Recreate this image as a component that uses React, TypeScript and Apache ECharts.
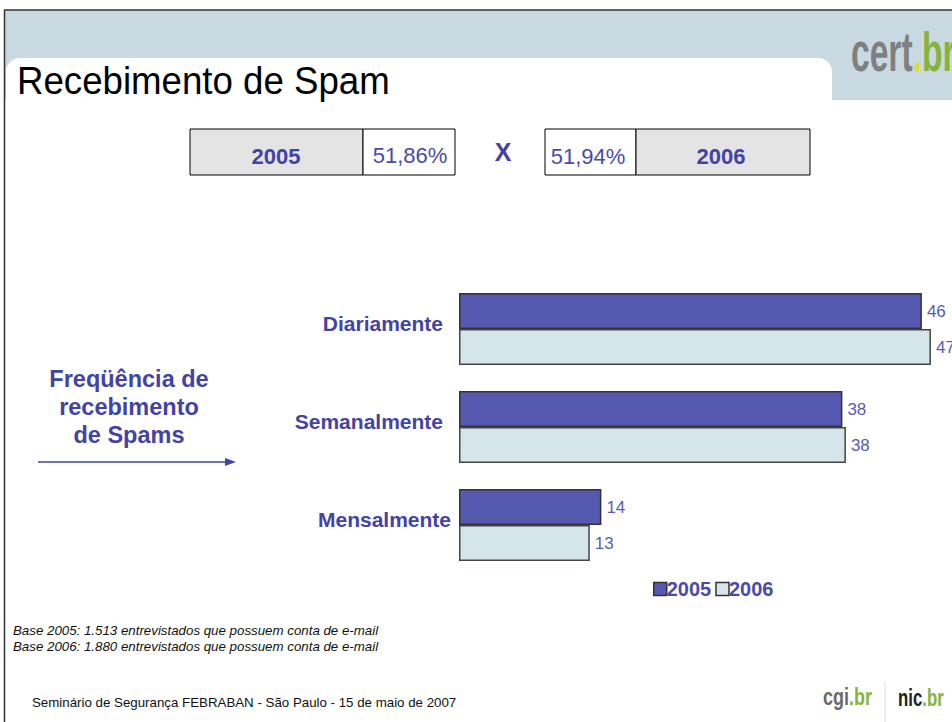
import React, { useEffect, useRef } from "react";
import * as echarts from "echarts";

const categories = ["Diariamente", "Semanalmente", "Mensalmente"];
const seriesNames = ["2005", "2006"];
const values2005 = [46, 38.1, 14.15];
const values2006 = [46.9, 38.45, 13];
const headerYears = ["2005", "2006"];
const headerRates = ["51,86%", "51,94%"];
const leftLines = ["Freqüência de", "recebimento", "de Spams"];
const footnotes = [
  "Base 2005: 1.513 entrevistados que possuem conta de e-mail",
  "Base 2006: 1.880 entrevistados que possuem conta de e-mail",
];
const footerText = "Seminário de Segurança FEBRABAN - São Paulo - 15 de maio de 2007";

const BLUE = "#4343a3";
const BAR1 = "#5659b0";
const BAR2 = "#d5e6ea";
const GREEN = "#86b33a";
const FONT = "'Liberation Sans', Arial, sans-serif";

export default function App() {
  const ref = useRef<HTMLDivElement>(null);
  useEffect(() => {
    if (!ref.current) return;
    const chart = echarts.init(ref.current, null, { renderer: "svg" });
    const catLabel = {
      fontSize: 21,
      fontWeight: "bold" as const,
      color: BLUE,
      fontFamily: FONT,
    };
    const barLabel = {
      show: true,
      position: "right",
      distance: 5,
      formatter: (p: any) => String(Math.round(p.value)),
      fontSize: 17,
      color: "#5a5ab8",
      fontFamily: FONT,
    };
    const option: any = {
      animation: false,
      backgroundColor: "#ffffff",
      grid: { left: 459, top: 280, width: 483, height: 294, containLabel: false },
      xAxis: {
        type: "value",
        min: 0,
        max: 48,
        show: false,
      },
      yAxis: {
        type: "category",
        data: categories,
        inverse: true,
        axisLine: { show: false },
        axisTick: { show: false },
        axisLabel: {
          margin: 8,
          padding: [0, 0, 11, 0],
          formatter: (v: string) => (v === "Mensalmente" ? `{m|${v}}` : `{n|${v}}`),
          rich: {
            n: { ...catLabel, padding: [0, 8, 0, 0] },
            m: { ...catLabel },
          },
        },
      },
      legend: {
        data: seriesNames,
        left: 648,
        top: 574,
        icon: "rect",
        itemWidth: 13,
        itemHeight: 13,
        itemGap: 4,
        itemStyle: { borderColor: "#333", borderWidth: 1.5 },
        textStyle: {
          fontSize: 20,
          fontWeight: "bold",
          color: "#4a4aaa",
          fontFamily: FONT,
          padding: [0, 0, 0, -5],
        },
      },
      series: [
        {
          name: seriesNames[0],
          type: "bar",
          data: values2005,
          barWidth: 36,
          barGap: "0%",
          itemStyle: { color: BAR1, borderColor: "#333", borderWidth: 1.5 },
          label: barLabel,
        },
        {
          name: seriesNames[1],
          type: "bar",
          data: values2006,
          barWidth: 36,
          barGap: "0%",
          itemStyle: { color: BAR2, borderColor: "#444", borderWidth: 1.5 },
          label: barLabel,
        },
      ],
      graphic: [
        // header band
        { type: "rect", z: -10, shape: { x: 5, y: 10, width: 947, height: 90 }, style: { fill: "#c9d9e1" } },
        { type: "rect", z: -9, shape: { x: 6, y: 58, width: 826, height: 80, r: [14, 14, 0, 0] }, style: { fill: "#ffffff" } },
        { type: "rect", z: -9, shape: { x: 6, y: 100, width: 946, height: 40 }, style: { fill: "#ffffff" } },
        { type: "line", shape: { x1: 4, y1: 10, x2: 952, y2: 10 }, style: { stroke: "#333", lineWidth: 1.5 } },
        { type: "line", shape: { x1: 4.5, y1: 10, x2: 4.5, y2: 722 }, style: { stroke: "#333", lineWidth: 1.5 } },
        // title
        {
          type: "text", x: 17, y: 81, scaleX: 0.94,
          style: { text: "Recebimento de Spam", fontSize: 39, fontFamily: FONT, fill: "#000", verticalAlign: "middle" },
        },
        // cert.br logo
        {
          type: "text", x: 851, y: 52, scaleX: 0.6,
          style: {
            text: "{g|cert}{y|.}{b|br}", verticalAlign: "middle",
            rich: {
              g: { fontSize: 56, fontWeight: "bold", fontFamily: FONT, fill: "#7f7f7f" },
              y: { fontSize: 56, fontWeight: "bold", fontFamily: FONT, fill: "#dede1e" },
              b: { fontSize: 56, fontWeight: "bold", fontFamily: FONT, fill: GREEN },
            },
          },
        },
        // header boxes
        { type: "rect", shape: { x: 190, y: 129, width: 173, height: 46 }, style: { fill: "#e4e4e4", stroke: "#000", lineWidth: 1 } },
        { type: "rect", shape: { x: 363, y: 129, width: 92, height: 46 }, style: { fill: "#fff", stroke: "#000", lineWidth: 1 } },
        { type: "rect", shape: { x: 545, y: 129, width: 91, height: 46 }, style: { fill: "#fff", stroke: "#000", lineWidth: 1 } },
        { type: "rect", shape: { x: 636, y: 129, width: 174, height: 46 }, style: { fill: "#e4e4e4", stroke: "#000", lineWidth: 1 } },
        { type: "text", x: 276, y: 156, style: { text: headerYears[0], fontSize: 22, fontWeight: "bold", fontFamily: FONT, fill: BLUE, align: "center", verticalAlign: "middle" } },
        { type: "text", x: 410, y: 155, style: { text: headerRates[0], fontSize: 22, fontFamily: FONT, fill: "#4a4aaa", align: "center", verticalAlign: "middle" } },
        { type: "text", x: 503, y: 152, style: { text: "X", fontSize: 25, fontWeight: "bold", fontFamily: FONT, fill: BLUE, align: "center", verticalAlign: "middle" } },
        { type: "text", x: 588, y: 156, style: { text: headerRates[1], fontSize: 22, fontFamily: FONT, fill: "#4a4aaa", align: "center", verticalAlign: "middle" } },
        { type: "text", x: 721, y: 156, style: { text: headerYears[1], fontSize: 22, fontWeight: "bold", fontFamily: FONT, fill: BLUE, align: "center", verticalAlign: "middle" } },
        // left caption
        ...leftLines.map((t, i) => ({
          type: "text", x: 129, y: 379 + i * 28,
          style: { text: t, fontSize: 23.5, fontWeight: "bold", fontFamily: FONT, fill: BLUE, align: "center", verticalAlign: "middle" },
        })),
        { type: "line", shape: { x1: 38, y1: 462, x2: 228, y2: 462 }, style: { stroke: BLUE, lineWidth: 1.5 } },
        { type: "polygon", shape: { points: [[225, 458], [236, 462], [225, 466]] }, style: { fill: BLUE } },
        // footnotes
        ...footnotes.map((t, i) => ({
          type: "text", x: 13, y: 630 + i * 16,
          style: { text: t, fontSize: 13.3, fontStyle: "italic", fontFamily: FONT, fill: "#111", verticalAlign: "middle" },
        })),
        // footer
        { type: "text", x: 32, y: 702, style: { text: footerText, fontSize: 13.3, fontFamily: FONT, fill: "#111", verticalAlign: "middle" } },
        // bottom logos
        {
          type: "text", x: 823, y: 697, scaleX: 0.75,
          style: {
            text: "{g|cgi}{b|.br}", verticalAlign: "middle",
            rich: {
              g: { fontSize: 24, fontWeight: "bold", fontFamily: FONT, fill: "#6a6a6a" },
              b: { fontSize: 24, fontWeight: "bold", fontFamily: FONT, fill: GREEN },
            },
          },
        },
        { type: "line", shape: { x1: 885, y1: 682, x2: 885, y2: 722 }, style: { stroke: "#dddddd", lineWidth: 1 } },
        {
          type: "text", x: 898, y: 697, scaleX: 0.7,
          style: {
            text: "{g|nic}{b|.br}", verticalAlign: "middle",
            rich: {
              g: { fontSize: 24, fontWeight: "bold", fontFamily: FONT, fill: "#222" },
              b: { fontSize: 24, fontWeight: "bold", fontFamily: FONT, fill: GREEN },
            },
          },
        },
      ],
    };
    chart.setOption(option);
    return () => chart.dispose();
  }, []);
  return (
    <div
      ref={ref}
      style={{ position: "absolute", left: 0, top: 0, width: 952, height: 722 }}
    />
  );
}
